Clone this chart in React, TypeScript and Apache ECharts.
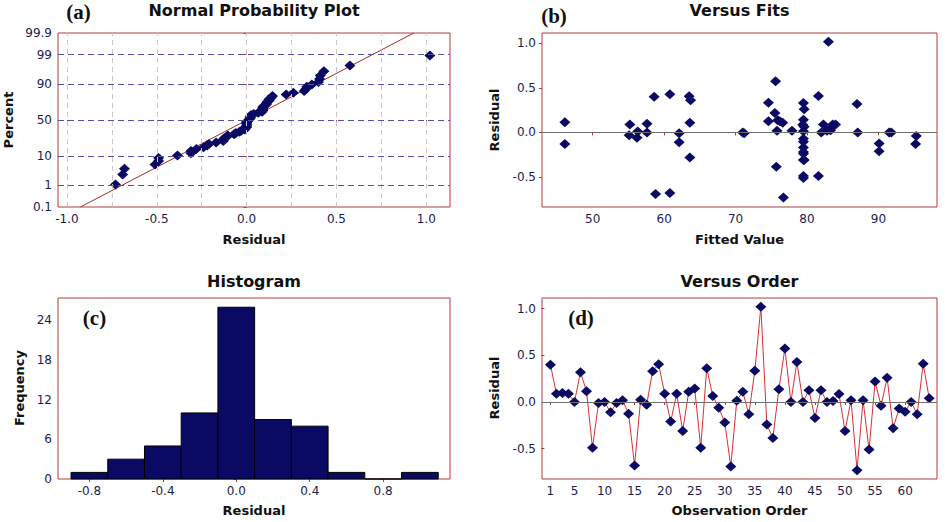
import React, { useEffect, useRef } from "react";
import * as echarts from "echarts";

// ---- data ----
const residuals = [
  0.40, 0.09, 0.098, 0.09, 0.00, 0.32, 0.115, -0.49, -0.01, 0.00,
  -0.11, -0.01, 0.02, -0.125, -0.68, 0.025, -0.03, 0.33, 0.406, 0.09,
  -0.21, 0.09, -0.31, 0.11, 0.144, -0.49, 0.363, 0.065, -0.06, -0.22,
  -0.69, 0.015, 0.11, -0.13, 0.335, 1.02, -0.24, -0.385, 0.137, 0.575,
  0.00, 0.43, 0.00, 0.126, -0.17, 0.126, 0.00, 0.01, 0.086, -0.31,
  0.02, -0.73, 0.02, -0.51, 0.22, -0.04, 0.26, -0.28, -0.07, -0.105,
  0.00, -0.13, 0.41, 0.04,
];
const fittedValues = [
  58.6, 55.2, 57.6, 82.3, 57.6, 87.0, 46.1, 81.6, 62.1, 71.0,
  62.1, 71.2, 75.8, 90.1, 60.8, 83.3, 55.1, 79.5, 63.5, 84.0,
  90.1, 83.6, 79.5, 63.6, 79.5, 79.5, 63.7, 79.6, 56.2, 79.5,
  58.8, 79.5, 76.6, 95.2, 74.6, 83.0, 79.5, 75.7, 75.9, 75.6,
  87.1, 60.8, 82.0, 74.6, 79.5, 76.2, 91.5, 56.3, 79.4, 79.6,
  77.9, 76.7, 82.8, 79.5, 75.5, 95.3, 79.6, 63.6, 79.5, 79.5,
  91.8, 46.1, 81.6, 83.2,
];
const histBinCenters = [-0.8, -0.6, -0.4, -0.2, 0.0, 0.2, 0.4, 0.6, 0.8, 1.0];
const histCounts = [1, 3, 5, 10, 26, 9, 8, 1, 0, 1];

// ---- tick labels ----
const probPercentTicks = [0.1, 1, 10, 50, 90, 99, 99.9];
const probPercentGrid = [1, 10, 50, 90, 99];
const probResidualTicks = [-1.0, -0.5, 0.0, 0.5, 1.0];
const probResidualGrid = [-1.0, -0.75, -0.5, -0.25, 0.0, 0.25, 0.5, 0.75, 1.0];
const fittedTicks = [50, 60, 70, 80, 90];
const residualTicks = [-0.5, 0.0, 0.5, 1.0];
const histResidualTicks = [-0.8, -0.4, 0.0, 0.4, 0.8];
const frequencyTicks = [0, 6, 12, 18, 24];
const orderTicks = [1, 5, 10, 15, 20, 25, 30, 35, 40, 45, 50, 55, 60];

// inverse standard normal CDF (Acklam) for the probability axis
function invNorm(p: number): number {
  const a = [-39.69683028665376, 220.9460984245205, -275.9285104469687, 138.357751867269, -30.66479806614716, 2.506628277459239];
  const b = [-54.47609879822406, 161.5858368580409, -155.6989798598866, 66.80131188771972, -13.28068155288572];
  const c = [-0.007784894002430293, -0.3223964580411365, -2.400758277161838, -2.549671010229528, 4.374664141464968, 2.938163982698783];
  const d = [0.007784695709041462, 0.3224671290700398, 2.445134137142996, 3.754408661907416];
  const pl = 0.02425;
  if (p < pl) {
    const q = Math.sqrt(-2 * Math.log(p));
    return (((((c[0] * q + c[1]) * q + c[2]) * q + c[3]) * q + c[4]) * q + c[5]) / ((((d[0] * q + d[1]) * q + d[2]) * q + d[3]) * q + 1);
  }
  if (p <= 1 - pl) {
    const q = p - 0.5;
    const r = q * q;
    return ((((((a[0] * r + a[1]) * r + a[2]) * r + a[3]) * r + a[4]) * r + a[5]) * q) / (((((b[0] * r + b[1]) * r + b[2]) * r + b[3]) * r + b[4]) * r + 1);
  }
  const q = Math.sqrt(-2 * Math.log(1 - p));
  return -(((((c[0] * q + c[1]) * q + c[2]) * q + c[3]) * q + c[4]) * q + c[5]) / ((((d[0] * q + d[1]) * q + d[2]) * q + d[3]) * q + 1);
}

const NAVY = "#0a0a64";
const FRAME = "#b03a3a";
const LABEL_COLOR = "#1c1c4c";
const FONT = "DejaVu Sans";

export default function App() {
  const ref = useRef<HTMLDivElement>(null);

  useEffect(() => {
    if (!ref.current) return;
    const chart = echarts.init(ref.current, undefined, { renderer: "svg" });

    const n = residuals.length;
    const mean = residuals.reduce((s, v) => s + v, 0) / n;
    const sd = Math.sqrt(residuals.reduce((s, v) => s + (v - mean) * (v - mean), 0) / (n - 1));
    const sorted = [...residuals].sort((x, y) => x - y);
    const probPoints = sorted.map((v, i) => [v, invNorm((i + 1 - 0.3) / (n + 0.4))]);
    const zTicks = probPercentTicks.map((p) => invNorm(p / 100));
    const zMin = zTicks[0];
    const zMax = zTicks[zTicks.length - 1];
    const fitLine = [
      [mean + sd * zMin, zMin],
      [mean + sd * zMax, zMax],
    ];
    const binWidth = histBinCenters[1] - histBinCenters[0];

    const tickLabel = { color: LABEL_COLOR, fontFamily: FONT, fontSize: 12, margin: 6 };
    const axis = (gridIndex: number, min: number, max: number, ticks: number[], fmt: (v: number) => string) => ({
      type: "value",
      gridIndex,
      min,
      max,
      axisLine: { show: false },
      splitLine: { show: false },
      axisTick: { show: true, length: 3, customValues: ticks, lineStyle: { color: FRAME } },
      axisLabel: { ...tickLabel, customValues: ticks, formatter: fmt, showMinLabel: true, showMaxLabel: true },
    });
    const fix1 = (v: number) => v.toFixed(1);
    const int = (v: number) => String(Math.round(v));
    const pctFmt = (v: number) => {
      let best = 0;
      zTicks.forEach((z, i) => {
        if (Math.abs(z - v) < Math.abs(zTicks[best] - v)) best = i;
      });
      return String(probPercentTicks[best]);
    };

    const gridStyle = { show: true, borderColor: FRAME, borderWidth: 1, backgroundColor: "transparent" };
    const mlBase = { silent: true, symbol: ["none", "none"], label: { show: false }, animation: false };

    const text = (t: string, x: number, y: number, size: number, rot = 0, family = FONT) => ({
      type: "text",
      x,
      y,
      rotation: rot,
      silent: true,
      style: {
        text: t,
        fontFamily: family,
        fontWeight: "bold",
        fontSize: size,
        fill: "#111",
        align: "center",
        verticalAlign: "middle",
      },
    });

    const marker = { color: NAVY, opacity: 1 };

    chart.setOption({
      animation: false,
      backgroundColor: "#fff",
      grid: [
        { left: 58, top: 33, width: 392, height: 174, ...gridStyle },
        { left: 542, top: 33, width: 395, height: 174, ...gridStyle },
        { left: 58, top: 298, width: 392, height: 181, ...gridStyle },
        { left: 542, top: 298, width: 395, height: 181, ...gridStyle },
      ],
      xAxis: [
        axis(0, -1.05, 1.132, probResidualTicks, fix1),
        axis(1, 42.9, 98.2, fittedTicks, int),
        axis(2, -0.971, 1.164, histResidualTicks, fix1),
        axis(3, -0.4, 65.3, orderTicks, int),
      ],
      yAxis: [
        axis(0, zMin, zMax, zTicks, pctFmt),
        axis(1, -0.837, 1.117, residualTicks, fix1),
        axis(2, 0, 27.4, frequencyTicks, int),
        axis(3, -0.825, 1.115, residualTicks, fix1),
      ],
      graphic: [
        text("Normal Probability Plot", 254, 10, 16),
        text("Versus Fits", 739.5, 10, 16),
        text("Histogram", 254, 281, 16),
        text("Versus Order", 739.5, 281, 16),
        text("(a)", 78.5, 12, 21, 0, "Liberation Serif"),
        text("(b)", 554, 16, 21, 0, "Liberation Serif"),
        text("(c)", 94.5, 318, 21, 0, "Liberation Serif"),
        text("(d)", 581, 318, 21, 0, "Liberation Serif"),
        text("Percent", 8, 120, 13, Math.PI / 2),
        text("Residual", 254, 239, 13),
        text("Residual", 494, 120, 13, Math.PI / 2),
        text("Fitted Value", 739.5, 239, 13),
        text("Frequency", 19, 388, 13, Math.PI / 2),
        text("Residual", 254, 510, 13),
        text("Residual", 494, 388, 13, Math.PI / 2),
        text("Observation Order", 739.5, 510, 13),
      ],
      series: [
        // (a) grid lines
        {
          type: "line",
          xAxisIndex: 0,
          yAxisIndex: 0,
          data: [],
          z: 1,
          markLine: {
            ...mlBase,
            data: [
              ...probResidualGrid.map((v) => ({
                xAxis: v,
                lineStyle: { color: "#c8c8c8", type: [5, 4], width: 1 },
              })),
              ...probPercentGrid.map((p) => ({
                yAxis: invNorm(p / 100),
                lineStyle: { color: "#5252a6", type: [6, 4], width: 1 },
              })),
            ],
          },
        },
        // (a) fitted normal line
        {
          type: "line",
          xAxisIndex: 0,
          yAxisIndex: 0,
          data: fitLine,
          showSymbol: false,
          z: 2,
          lineStyle: { color: "#a52a2a", width: 1 },
        },
        // (a) points
        {
          type: "scatter",
          xAxisIndex: 0,
          yAxisIndex: 0,
          data: probPoints,
          symbol: "diamond",
          symbolSize: [11, 10],
          itemStyle: marker,
          z: 3,
        },
        // (b) versus fits
        {
          type: "scatter",
          xAxisIndex: 1,
          yAxisIndex: 1,
          data: residuals.map((r, i) => [fittedValues[i], r]),
          symbol: "diamond",
          symbolSize: [11, 10],
          itemStyle: marker,
          z: 3,
          markLine: {
            ...mlBase,
            data: [{ yAxis: 0, lineStyle: { color: "#707070", type: "solid", width: 1 } }],
          },
        },
        // (c) histogram
        {
          type: "custom",
          xAxisIndex: 2,
          yAxisIndex: 2,
          data: histBinCenters.map((c, i) => [c, histCounts[i]]),
          renderItem: (_params: any, api: any) => {
            const c = api.value(0);
            const cnt = api.value(1);
            const p0 = api.coord([c - binWidth / 2, cnt]);
            const p1 = api.coord([c + binWidth / 2, 0]);
            return {
              type: "rect",
              shape: { x: p0[0], y: p0[1], width: p1[0] - p0[0], height: p1[1] - p0[1] },
              style: { fill: NAVY, stroke: "#000", lineWidth: 1 },
            };
          },
        },
        // (d) versus order
        {
          type: "line",
          xAxisIndex: 3,
          yAxisIndex: 3,
          data: residuals.map((r, i) => [i + 1, r]),
          symbol: "diamond",
          symbolSize: [11, 10],
          showAllSymbol: true,
          itemStyle: marker,
          lineStyle: { color: "#d93030", width: 1 },
          z: 3,
          markLine: {
            ...mlBase,
            data: [{ yAxis: 0, lineStyle: { color: "#707070", type: "solid", width: 1 } }],
          },
        },
      ],
    });

    return () => chart.dispose();
  }, []);

  return (
    <div
      ref={ref}
      style={{ position: "fixed", left: 0, top: 0, width: 945, height: 522, background: "#fff" }}
    />
  );
}
